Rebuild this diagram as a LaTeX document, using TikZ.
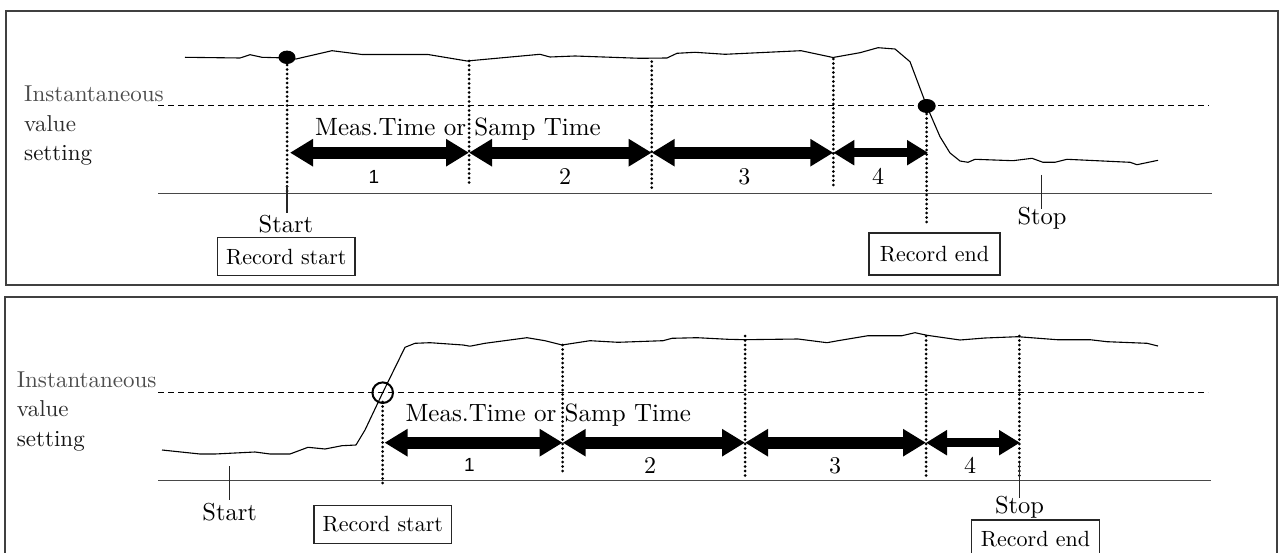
\documentclass[tikz,border=0pt]{standalone}
\usepackage{fontspec}
\setmainfont{lmroman10-regular}[Extension=.otf]
\newfontfamily\sansone{Liberation Sans}
\usetikzlibrary{arrows.meta}
\tikzset{
  frame/.style={draw=black!75, line width=1.5pt},
  axisline/.style={draw=black!72, line width=1.3pt},
  threshold/.style={draw=black, line width=1pt, dash pattern=on 6pt off 4pt},
  dotline/.style={draw=black, line width=3pt, dash pattern=on 0pt off 4.5pt, line cap=round},
  tick/.style={draw=black!85, line width=1.2pt},
  sig/.style={draw=black, line width=1.1pt, line join=round},
  dbl/.style={line width=12pt, {Triangle[length=23pt,width=26pt]}-{Triangle[length=23pt,width=26pt]}},
  dblsmall/.style={line width=9.5pt, {Triangle[length=21pt,width=24pt]}-{Triangle[length=21pt,width=24pt]}},
  sidelbl/.style={inner sep=0pt, anchor=base west, font=\fontsize{23}{28}\selectfont},
  meas/.style={inner sep=0pt, anchor=base, font=\fontsize{25}{30}\selectfont},
  sdig/.style={inner sep=0pt, anchor=base, font=\sansone\fontsize{19}{23}\selectfont},
  rdig/.style={inner sep=0pt, anchor=base, font=\fontsize{24}{28}\selectfont},
  ss/.style={inner sep=0pt, anchor=base, font=\fontsize{24.5}{29}\selectfont},
  recbox/.style={draw=black!85, line width=1.1pt, inner sep=0pt, font=\fontsize{22}{26}\selectfont},
}
\begin{document}
\begin{tikzpicture}[x=1pt,y=-1pt]
\useasboundingbox (0,0) rectangle (1282,553);
\clip (0,0) rectangle (1282,553);
\fill[white] (0,0) rectangle (1282,553);

% ================= TOP PANEL =================
\draw[frame] (6,11) rectangle (1278,285);

% signal
\draw[sig] (185,57.3) -- (240,58) -- (250,54.7) -- (262,57.3) -- (287,58) -- (296,59)
  -- (332,50.7) -- (362,54.5) -- (428,54.5) -- (467,61) -- (540,54.3) -- (550,57)
  -- (575,56) -- (640,58.3) -- (667,58) -- (677,53.3) -- (695,52.3) -- (725,54.3)
  -- (801,50.7) -- (833,57.5) -- (860,52.7) -- (878,47.7) -- (895,49) -- (910,61.7)
  -- (926.7,106) -- (940,136.7) -- (950,153) -- (960,161) -- (968,162.3) -- (975,159.3)
  -- (1013,160.7) -- (1032,158.3) -- (1043,162.3) -- (1055,162.3) -- (1067,159.3)
  -- (1130,162.3) -- (1137,164.7) -- (1158,160.3);

% threshold and axis
\coordinate (tthL) at (158,105.3); \coordinate (tthR) at (1209,105.3);
\draw[threshold] (tthL) -- (tthR);
\coordinate (taxL) at (158,193.3); \coordinate (taxR) at (1212,193.3);
\draw[axisline] (taxL) -- (taxR);

% vertical dotted lines
\coordinate (tv0a) at (287,65);    \coordinate (tv0b) at (287,192);
\coordinate (tv1a) at (469,61);    \coordinate (tv1b) at (469,187);
\coordinate (tv2a) at (651.7,61.7);\coordinate (tv2b) at (651.7,190);
\coordinate (tv3a) at (833.3,59);  \coordinate (tv3b) at (833.3,188);
\coordinate (tv4a) at (926.7,114); \coordinate (tv4b) at (926.7,225);
\foreach \n in {0,...,4} {\draw[dotline] (tv\n a) -- (tv\n b);}

% arrows
\coordinate (ta0) at (290,152.7);
\coordinate (ta1) at (469,152.7);
\coordinate (ta2) at (651.7,152.7);
\coordinate (ta3) at (833.3,152.7);
\coordinate (ta4) at (928,152.7);
\draw[dbl] (ta0) -- (ta1);
\draw[dbl] (ta1) -- (ta2);
\draw[dbl] (ta2) -- (ta3);
\draw[dblsmall] (ta3) -- (ta4);

% dots
\fill (287,57.3) ellipse [x radius=8.5pt, y radius=6.7pt];
\fill (926.7,106) ellipse [x radius=9pt, y radius=7pt];

% labels
\node[sidelbl, text=black!70] (tinst) at (24,102) {Instantaneous};
\node[sidelbl, text=black!82] (tval) at (24,132) {value};
\node[sidelbl, text=black!92] (tset) at (24,161) {setting};
\node[meas] (tmeas) at (458,136) {Meas.Time or Samp Time};
\node[sdig] (tn1) at (374,183.3) {1};
\node[rdig] (tn2) at (565,185) {2};
\node[rdig] (tn3) at (744.3,185) {3};
\node[rdig] (tn4) at (878,185) {4};

\node[ss] (tstart) at (286,232.7) {Start};
\coordinate (tstk) at (287,185);
\draw[tick] (tstk) -- (287,213);
\node[recbox, minimum width=137.3pt, minimum height=38.3pt] (trs) at (286.3,256.8) {Record start};

\node[ss] (tstop) at (1042,225) {Stop};
\coordinate (tsptk) at (1041.7,175);
\draw[tick] (tsptk) -- (1041.7,209);
\node[recbox, minimum width=131pt, minimum height=42pt] (tre) at (934.5,254) {Record end};

% ================= BOTTOM PANEL =================
\draw[frame] (5,297) rectangle (1277,560);

\draw[sig] (162,450) -- (200,454) -- (215,454) -- (255,452) -- (270,454) -- (290,454)
  -- (308,447.3) -- (325,449) -- (342,445.7) -- (356,445) -- (365,430) -- (382.7,392.7)
  -- (405,347.3) -- (415,343.3) -- (430,342.7) -- (463,345) -- (470,346.2) -- (485,343.3)
  -- (527,337.7) -- (545,340.7) -- (562,345) -- (590,340.7) -- (618,342.3) -- (663,340.7)
  -- (672,338.3) -- (697,337.7) -- (728,339.3) -- (745,339.7) -- (798,339) -- (827,342.7)
  -- (838,340.7) -- (868,335.7) -- (902,335.7) -- (915,332.7) -- (927,335.3) -- (960,340)
  -- (985,338) -- (1018,336.7) -- (1057,339.7) -- (1090,339.7) -- (1107,341.7)
  -- (1147,343.3) -- (1158,346);

\coordinate (bthL) at (158,392.7); \coordinate (bthR) at (1208,392.7);
\draw[threshold] (bthL) -- (bthR);
\coordinate (baxL) at (158,480.7); \coordinate (baxR) at (1210.7,480.7);
\draw[axisline] (baxL) -- (baxR);

\coordinate (bv0a) at (382.7,402);  \coordinate (bv0b) at (382.7,487);
\coordinate (bv1a) at (562.7,345);  \coordinate (bv1b) at (562.7,475);
\coordinate (bv2a) at (745,336);    \coordinate (bv2b) at (745,478);
\coordinate (bv3a) at (926,336);    \coordinate (bv3b) at (926,479);
\coordinate (bv4a) at (1019.3,336); \coordinate (bv4b) at (1019.3,476);
\foreach \n in {0,...,4} {\draw[dotline] (bv\n a) -- (bv\n b);}

\coordinate (ba0) at (384.5,442.7);
\coordinate (ba1) at (562.7,442.7);
\coordinate (ba2) at (745,442.7);
\coordinate (ba3) at (926,442.7);
\coordinate (ba4) at (1020,442.7);
\draw[dbl] (ba0) -- (ba1);
\draw[dbl] (ba1) -- (ba2);
\draw[dbl] (ba2) -- (ba3);
\draw[dblsmall] (ba3) -- (ba4);

\draw[line width=2pt] (382.7,392.7) circle [radius=10.3pt];

\node[sidelbl, text=black!70] (binst) at (16.7,387.3) {Instantaneous};
\node[sidelbl, text=black!82] (bval) at (16.7,416.7) {value};
\node[sidelbl, text=black!92] (bset) at (16.7,446) {setting};
\node[meas] (bmeas) at (548.3,421.7) {Meas.Time or Samp Time};
\node[sdig] (bn1) at (469.3,471.7) {1};
\node[rdig] (bn2) at (650,473) {2};
\node[rdig] (bn3) at (835,473) {3};
\node[rdig] (bn4) at (970,473) {4};

\node[ss] (bstart) at (229.7,520) {Start};
\coordinate (bstk) at (229.3,466);
\draw[tick] (bstk) -- (229.3,500);
\node[recbox, minimum width=137.7pt, minimum height=38.3pt] (brs) at (382.8,524.2) {Record start};

\node[ss] (bstop) at (1019.5,513.3) {Stop};
\coordinate (bsptk) at (1019.3,463);
\draw[tick] (bsptk) -- (1019.3,498);
\node[recbox, minimum width=127.6pt, minimum height=38pt] (bre) at (1035.5,539) {Record end};
\end{tikzpicture}
\end{document}
